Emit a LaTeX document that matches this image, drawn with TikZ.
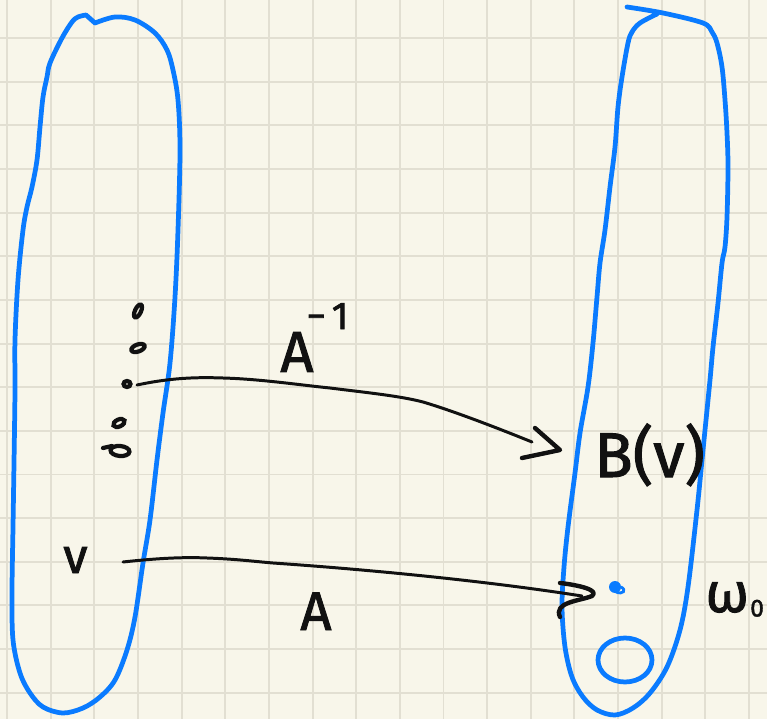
\documentclass[tikz,border=0pt]{standalone}
\usepackage{fontspec}
\setmainfont{Fira Sans}
\newfontfamily\handfont{Fira Sans}[FakeBold=1.6]
\usepackage{tikz}
\usetikzlibrary{calc}
\definecolor{paper}{HTML}{F8F6EA}
\definecolor{gridline}{HTML}{E2DFD2}
\definecolor{ink}{HTML}{111111}
\definecolor{pen}{HTML}{0A7BFF}
\tikzset{
  outline/.style={draw=pen, line width=2.7pt, line cap=round, line join=round},
  stroke/.style={draw=ink, line width=1.7pt, line cap=round},
  tipstroke/.style={draw=ink, line width=2.5pt, line cap=round, line join=round},
  hand/.style={inner sep=0pt, text=ink},
  loopmark/.style={draw=ink, line width=2.4pt},
}
\begin{document}
\begin{tikzpicture}[x=0.02cm, y=-0.02cm]
  \def\gridStep{43.65}
  \fill[paper] (0,0) rectangle (767,719);
  \useasboundingbox (0,0) rectangle (767,719);
  \foreach \k in {0,...,17} {
    \pgfmathsetmacro{\gx}{7+\k*\gridStep}
    \draw[gridline, line width=1.1pt] (\gx,0) -- (\gx,719);
  }
  \foreach \k in {0,...,15} {
    \pgfmathsetmacro{\gy}{38+\k*\gridStep}
    \draw[gridline, line width=1.1pt] (0,\gy) -- (767,\gy);
  }
  \draw[outline] plot[smooth, tension=0.55] coordinates {
    (95,23) (115,17) (135,20) (155,33) (167,50) (173,70) (178,100) (180,150)
    (178,230) (175,297) (170,363) (163,413) (157,460) (150,520) (143,563)
    (135,617) (127,650) (115,680) (100,697) (83,708) (63,713) (43,707)
    (30,693) (20,673) (13,640) (12,593) (13,527) (14,463) (15,390) (15,340)
    (18,280) (23,230) (27,207) (32,187) (37,160) (40,127) (43,97) (47,77)
    (50,63) (62,38) (72,22) (78,17) (86,15)} -- (95,23);
  \draw[outline] plot[smooth, tension=0.55] coordinates {
    (627,7) (663,13) (703,23) (712,32) (717,43) (722,67) (725,100) (727,133)
    (728,167) (727,217) (725,247) (722,263) (718,303) (713,347) (710,380)
    (705,430) (702,460) (697,510) (688,587) (680,630) (667,667) (650,693)
    (633,708) (615,715) (597,710) (583,697) (572,677) (565,647) (562,607)
    (564,567) (568,527) (575,473) (580,433) (588,387) (593,343) (597,297)
    (600,263) (605,230) (610,187) (615,147) (618,107) (622,77) (628,43)
    (632,32) (640,23) (657,14)};
  \draw[loopmark] (138,311) ellipse [x radius=3, y radius=7, rotate=-25];
  \draw[loopmark] (138,348) ellipse [x radius=7, y radius=3.5, rotate=20];
  \draw[loopmark] (127,384) ellipse [x radius=3.5, y radius=3];
  \draw[loopmark] (119,423) ellipse [x radius=6, y radius=3.5, rotate=25];
  \draw[loopmark] (120,451) ellipse [x radius=9.5, y radius=5, rotate=-5];
  \draw[loopmark, line cap=round] (103,448) -- (112,446);
  \coordinate (preimage) at (137,385);
  \coordinate (shaftB) at (532,442);
  \coordinate (hitB) at (560,450);
  \coordinate (fromV) at (123,562);
  \coordinate (toW) at (582,596);
  \draw[stroke] (preimage) .. controls (170,378) and (195,377) .. (223,378)
    .. controls (260,379) and (300,385) .. (330,388)
    .. controls (370,393) and (400,396) .. (423,402)
    .. controls (450,410) and (490,425) .. (shaftB);
  \draw[tipstroke] ($(hitB)+(-25,-22)$) -- (hitB) -- ($(hitB)+(-38,8)$);
  \draw[stroke] (fromV) .. controls (160,558) and (185,557) .. (207,558)
    .. controls (235,559) and (250,561) .. (273,563)
    .. controls (360,569) and (480,580) .. (toW);
  \draw[tipstroke] (560,583) .. controls (578,585) and (600,590) .. (592,596)
    .. controls (580,601) and (553,602) .. (560,617);
  \fill[pen] (615,587) circle[radius=6];
  \draw[pen, line width=1.6pt, line cap=round] (616,592) .. controls (623,595) and (627,590) .. (621,587);
  \draw[outline] (625,660) ellipse [x radius=27, y radius=22];
  \node[hand, anchor=base west, font=\handfont\fontsize{33}{33}\selectfont] (ainv) at (280,372)
    {A\kern-0.12em\raisebox{0.74em}{\fontsize{22}{22}\selectfont −\kern0.15em1}};
  \node[hand, anchor=base west, font=\handfont\fontsize{36}{36}\selectfont] (bv) at (594,477) {B(v)};
  \node[hand, anchor=base west, font=\handfont\fontsize{28}{28}\selectfont] (v) at (63,573) {v};
  \node[hand, anchor=base west, font=\handfont\fontsize{31}{31}\selectfont] (a) at (300,630) {A};
  \node[hand, anchor=base west, font=\handfont\fontsize{32}{32}\selectfont] (w0) at (705,612)
    {ω\kern0.02em\raisebox{-0.08em}{\fontsize{14}{14}\selectfont 0}};
\end{tikzpicture}
\end{document}
